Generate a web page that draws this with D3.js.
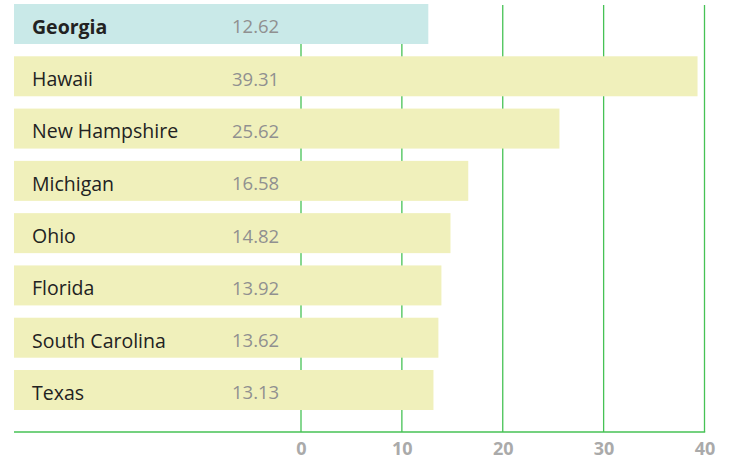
<!DOCTYPE html>
<html><head><meta charset="utf-8">
<script src="https://cdn.jsdelivr.net/npm/d3@7"></script>
<style>body{margin:0;background:#fff}svg{display:block}text{font-family:"Open Sans",sans-serif}</style>
</head><body><svg id="c" width="730" height="459"></svg>
<script>
const states = ["Georgia","Hawaii","New Hampshire","Michigan","Ohio","Florida","South Carolina","Texas"];
const values = [12.62,39.31,25.62,16.58,14.82,13.92,13.62,13.13];
const valueLabels = ["12.62","39.31","25.62","16.58","14.82","13.92","13.62","13.13"];
const ticks = [0,10,20,30,40];
const highlight = "Georgia";

const svg = d3.select("#c");
const x = d3.scaleLinear().domain([0,40]).range([301,704.5]);
const y = d3.scaleBand().domain(states).range([4,410]).paddingInner(0.235).paddingOuter(0);
const barLeft = 14, axisY = 432;

svg.append("g").selectAll("line").data(ticks).join("line")
  .attr("x1",d=>x(d)).attr("x2",d=>x(d)).attr("y1",5).attr("y2",axisY)
  .attr("stroke","#46c255").attr("stroke-width",1.3);

svg.append("g").selectAll("rect").data(states).join("rect")
  .attr("x",barLeft).attr("y",d=>y(d)).attr("height",y.bandwidth())
  .attr("width",(d,i)=>x(values[i])-barLeft)
  .attr("fill",d=>d===highlight?"#c9e9e8":"#f0f0bb");

svg.append("g").selectAll("text").data(states).join("text")
  .attr("x",32).attr("y",d=>y(d)+y.bandwidth()/2+2).attr("dy","0.4em")
  .attr("font-size",19.5).attr("fill","#222")
  .attr("font-weight",d=>d===highlight?700:400).text(d=>d);

svg.append("g").selectAll("text").data(states).join("text")
  .attr("x",232).attr("y",d=>y(d)+y.bandwidth()/2+2).attr("dy","0.4em")
  .attr("font-size",18.5).attr("fill","#909090").text((d,i)=>valueLabels[i]);

svg.append("line").attr("x1",barLeft).attr("x2",x(40)+0.7).attr("y1",axisY).attr("y2",axisY)
  .attr("stroke","#46c255").attr("stroke-width",1.5);

const ax = d3.axisBottom(x).tickValues(ticks).tickSize(0).tickPadding(10);
const g = svg.append("g").attr("transform",`translate(0,${axisY})`).call(ax);
g.select(".domain").remove();
g.selectAll("text").attr("font-size",18).attr("font-weight",700).attr("fill","#aaaaaa")
  .style("font-family",'"Open Sans",sans-serif');
</script></body></html>
